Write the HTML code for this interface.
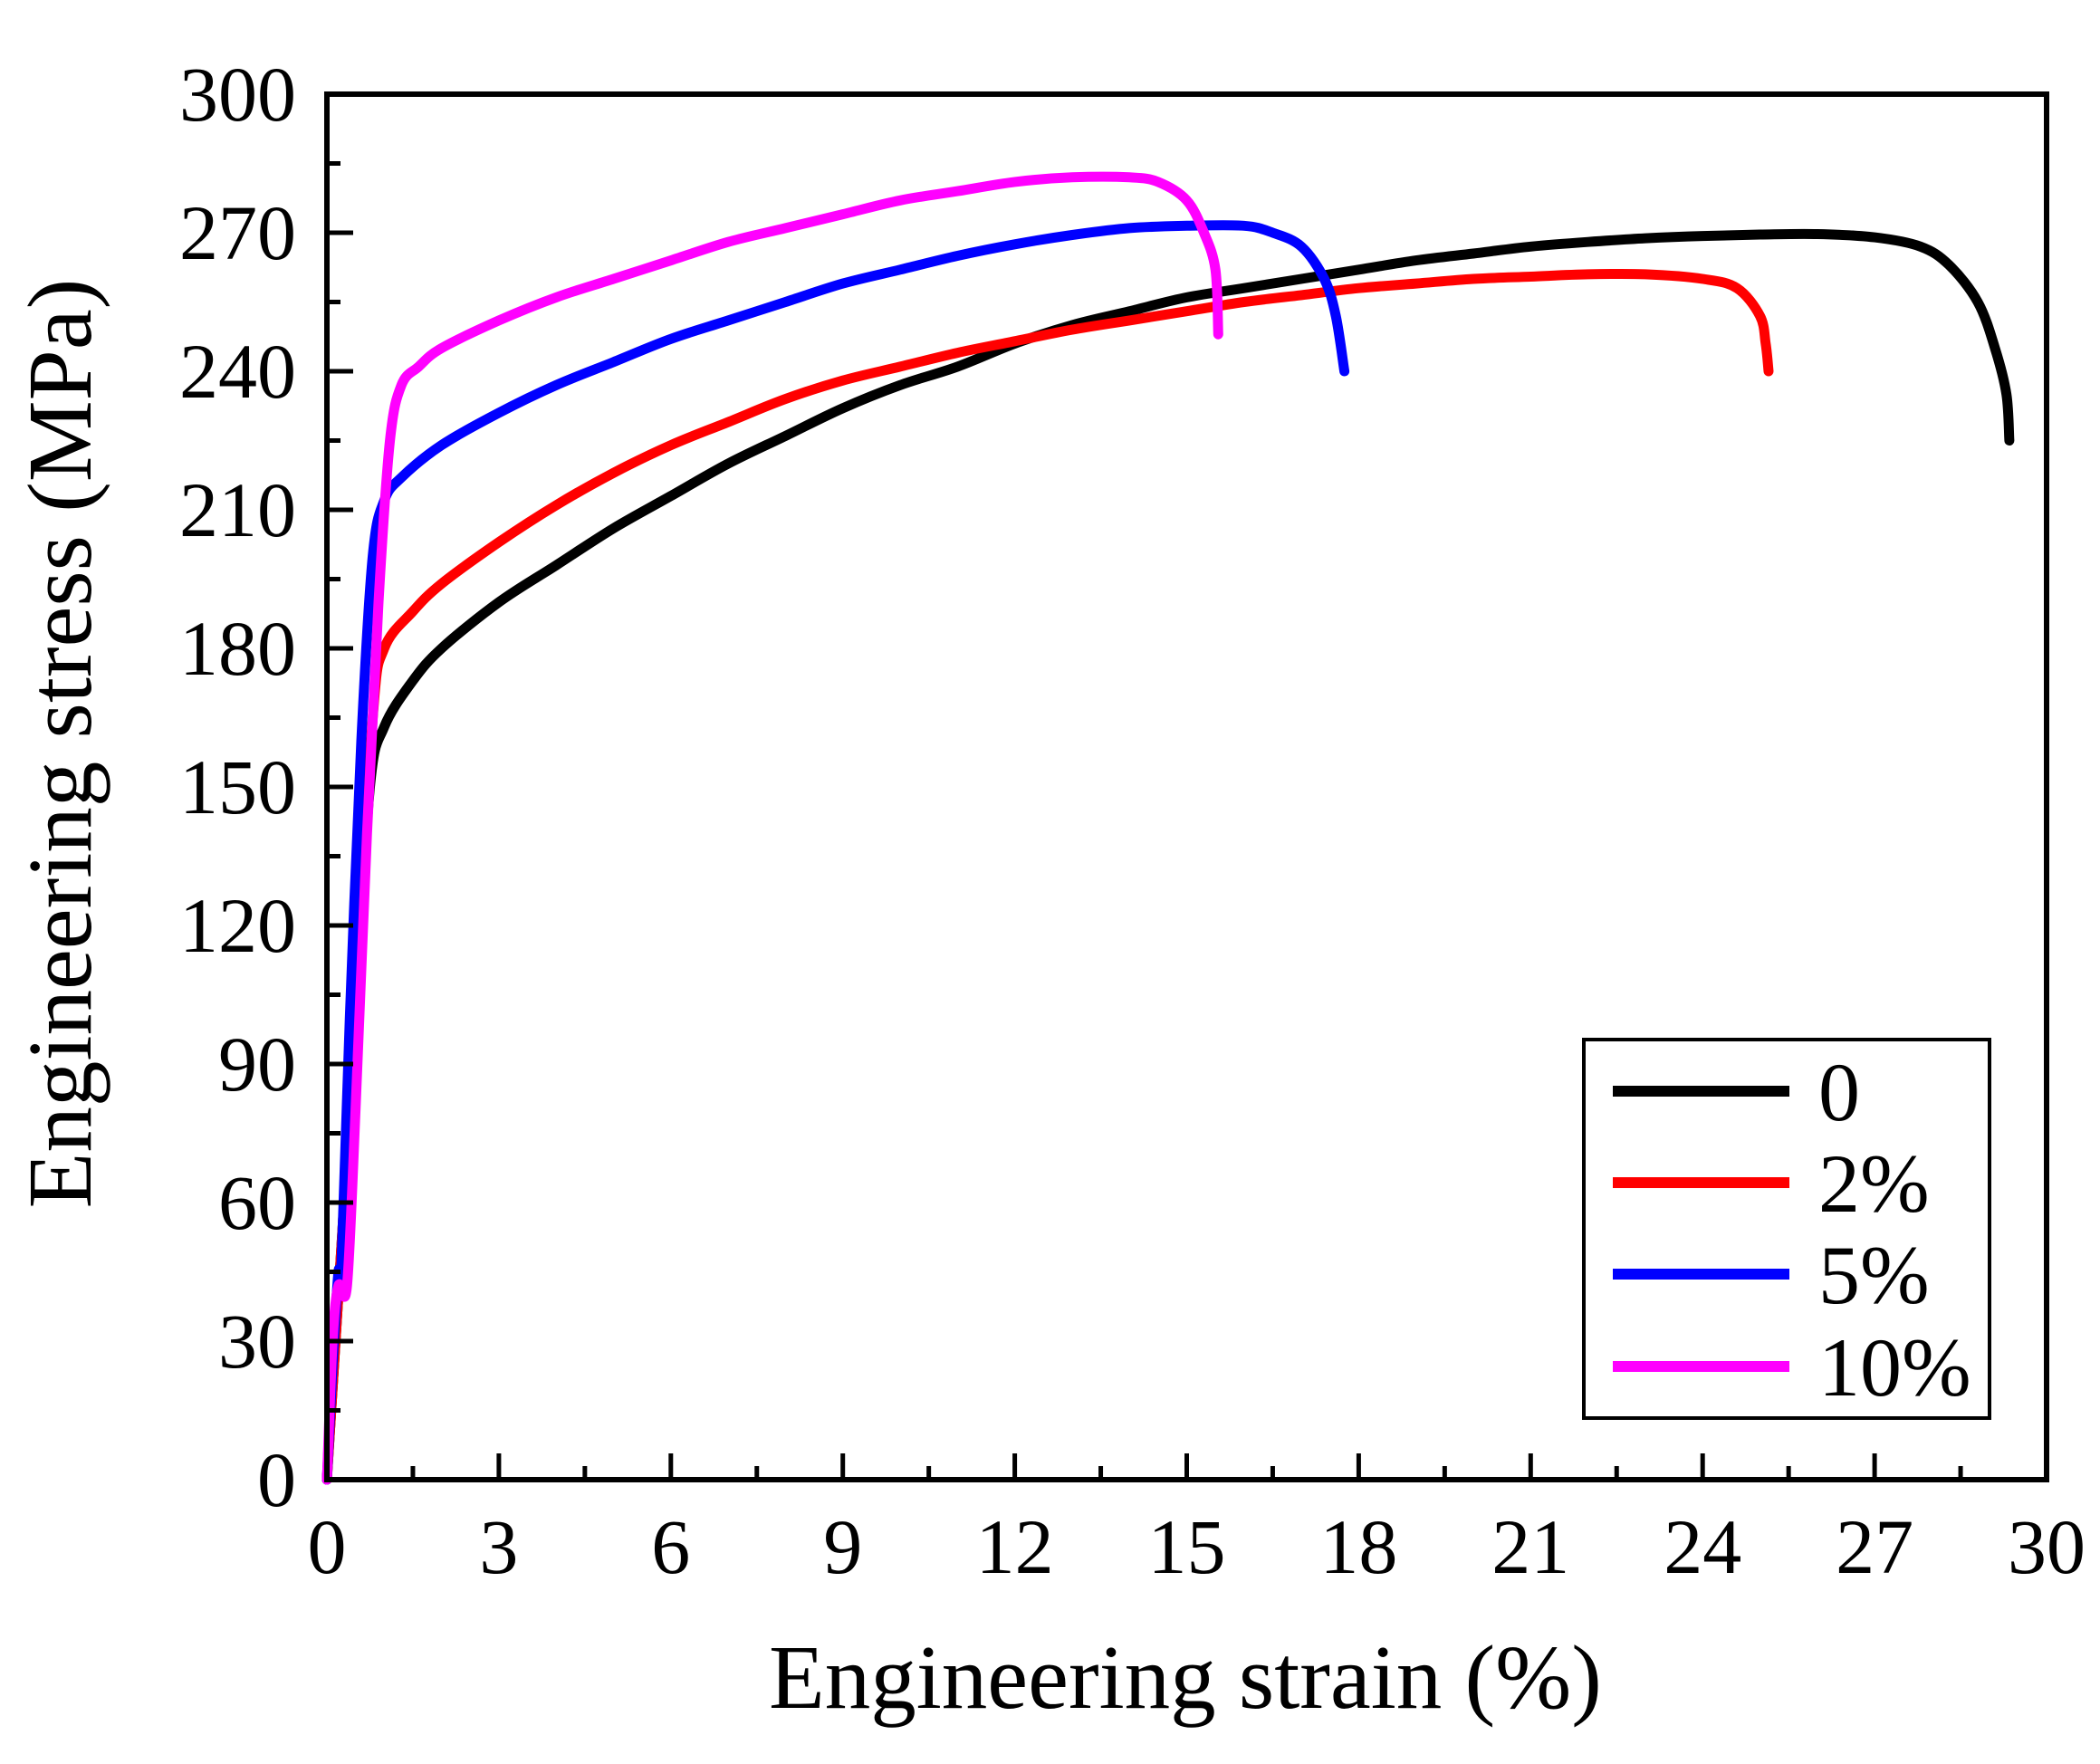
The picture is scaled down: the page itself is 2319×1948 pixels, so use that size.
<!DOCTYPE html>
<html><head><meta charset="utf-8"><style>
html,body{margin:0;padding:0;background:#fff;}
svg{display:block;font-family:"Liberation Serif",serif;}
</style></head><body>
<svg id="chart" width="2319" height="1948" viewBox="0 0 2319 1948" xmlns="http://www.w3.org/2000/svg">
<g id="series"></g>
<g id="axes"></g>
<g id="legend"></g>
<text x="1309" y="1886" font-size="101" text-anchor="middle">Engineering strain (%)</text>
<text transform="translate(100,821) rotate(-90)" font-size="101" text-anchor="middle">Engineering stress (MPa)</text>
</svg>
<script>
const xTicks=[0,3,6,9,12,15,18,21,24,27,30];
const yTicks=[0,30,60,90,120,150,180,210,240,270,300];
const seriesNames=["0","2%","5%","10%"];
const seriesColors=["#000000","#ff0000","#0000ff","#ff00ff"];
const strain0=[0,0.2,0.5,0.75,1,1.5,2,3,4,5,6,7,8,9,10,11,12,13,14,15,16,17,18,19,20,21,22,23,24,25,26,27,27.8,28.3,28.8,29.1,29.3,29.35];
const stress0=[0,40,100,150,163,173,180,190,198,206,213,220,226,232,237,241,246,250,253,256,258,260,262,264,265.5,267,268,268.8,269.3,269.6,269.7,269,267,263,255,245,235,225];
const strain2=[0,0.2,0.5,0.8,1.0,1.5,2,3,4,5,6,7,8,9,10,11,12,13,14,15,16,17,18,19,20,21,22,23,24,24.6,25,25.1,25.15];
const stress2=[0,40,100,165,180,188,194,203,211,218,224,229,234,238,241,244,246.5,249,251,253,255,256.5,258,259,260,260.5,261,261,260,258,252,246,240];
const strain5=[0,0.1,0.2,0.25,0.4,0.6,0.8,1,1.3,2,3,4,5,6,7,8,9,10,11,12,13,14,15,16,16.5,17,17.4,17.6,17.75];
const stress5=[0,25,45,45,100,160,200,212,217,224,231,237,242,247,251,255,259,262,265,267.5,269.5,271,271.5,271.5,270,267,260,252,240];
const strain10=[0,0.1,0.2,0.35,0.5,0.7,0.9,1.1,1.3,1.6,2,3,4,5,6,7,8,9,10,11,12,13,14,14.5,15,15.3,15.5,15.55];
const stress10=[0,30,42,42,80,140,190,225,237,241,245,251,256,260,264,268,271,274,277,279,281,282,282,281,277,270,262,248];

const L=361,R=2260,T=104,B=1634;
const xs=v=>L+(v-0)/(30-0)*(R-L);
const ys=v=>B-(v-0)/(300-0)*(B-T);
const NS="http://www.w3.org/2000/svg";
function mk(tag,parent){const e=document.createElementNS(NS,tag);parent.appendChild(e);return e;}

const sg=document.getElementById('series');
const allX=[strain0,strain2,strain5,strain10],allY=[stress0,stress2,stress5,stress10];
const snames=['series-0','series-2pct','series-5pct','series-10pct'];
for(let s=0;s<4;s++){
  const p=mk('path',sg);
  const px=allX[s].map(xs),py=allY[s].map(ys);
  let d='M'+px[0].toFixed(1)+','+py[0].toFixed(1);
  for(let i=0;i<px.length-1;i++){
    const p0x=px[Math.max(i-1,0)],p0y=py[Math.max(i-1,0)];
    const p3x=px[Math.min(i+2,px.length-1)],p3y=py[Math.min(i+2,px.length-1)];
    const c1x=px[i]+(px[i+1]-p0x)/6,c1y=py[i]+(py[i+1]-p0y)/6;
    const c2x=px[i+1]-(p3x-px[i])/6,c2y=py[i+1]-(p3y-py[i])/6;
    d+='C'+c1x.toFixed(1)+','+c1y.toFixed(1)+' '+c2x.toFixed(1)+','+c2y.toFixed(1)+' '+px[i+1].toFixed(1)+','+py[i+1].toFixed(1);
  }
  p.setAttribute('d',d);
  p.setAttribute('fill','none');
  p.setAttribute('stroke',seriesColors[s]);
  p.setAttribute('stroke-width','11');
  p.setAttribute('stroke-linejoin','round');
  p.setAttribute('stroke-linecap','round');
  
  
}

const ag=document.getElementById('axes');
const frame=mk('rect',ag);
frame.setAttribute('x',L);frame.setAttribute('y',T);frame.setAttribute('width',R-L);frame.setAttribute('height',B-T);
frame.setAttribute('fill','none');frame.setAttribute('stroke','#000');frame.setAttribute('stroke-width','6');


for(let i=0;i<xTicks.length;i++){
  const x=xs(xTicks[i]);
  const t=mk('line',ag);
  t.setAttribute('x1',x);t.setAttribute('x2',x);t.setAttribute('y1',B);t.setAttribute('y2',B-29);
  t.setAttribute('stroke','#000');t.setAttribute('stroke-width','5');
  
  
  if(i<xTicks.length-1){
    const m=mk('line',ag);const xm=xs((xTicks[i]+xTicks[i+1])/2);
    m.setAttribute('x1',xm);m.setAttribute('x2',xm);m.setAttribute('y1',B);m.setAttribute('y2',B-15);
    m.setAttribute('stroke','#000');m.setAttribute('stroke-width','5');
    
    
  }
  const lb=mk('text',ag);
  lb.setAttribute('x',x);lb.setAttribute('y',1737);lb.setAttribute('font-size','86');lb.setAttribute('text-anchor','middle');
  lb.textContent=xTicks[i];
  
  
}
for(let i=0;i<yTicks.length;i++){
  const y=ys(yTicks[i]);
  const t=mk('line',ag);
  t.setAttribute('x1',L);t.setAttribute('x2',L+29);t.setAttribute('y1',y);t.setAttribute('y2',y);
  t.setAttribute('stroke','#000');t.setAttribute('stroke-width','5');
  
  
  if(i<yTicks.length-1){
    const m=mk('line',ag);const ym=ys((yTicks[i]+yTicks[i+1])/2);
    m.setAttribute('x1',L);m.setAttribute('x2',L+15);m.setAttribute('y1',ym);m.setAttribute('y2',ym);
    m.setAttribute('stroke','#000');m.setAttribute('stroke-width','5');
    
    
  }
  const lb=mk('text',ag);
  lb.setAttribute('x',327);lb.setAttribute('y',y+29);lb.setAttribute('font-size','86');lb.setAttribute('text-anchor','end');
  lb.textContent=yTicks[i];
  
  
}

const lg=document.getElementById('legend');
const box=mk('rect',lg);
box.setAttribute('x',1749);box.setAttribute('y',1148);box.setAttribute('width',448);box.setAttribute('height',418);
box.setAttribute('fill','#fff');box.setAttribute('stroke','#000');box.setAttribute('stroke-width','4');


const ly=[1205,1306,1407,1509];
for(let s=0;s<4;s++){
  const l=mk('line',lg);
  l.setAttribute('x1',1781);l.setAttribute('x2',1976);l.setAttribute('y1',ly[s]);l.setAttribute('y2',ly[s]);
  l.setAttribute('stroke',seriesColors[s]);l.setAttribute('stroke-width','12');
  
  
  const t=mk('text',lg);
  t.setAttribute('x',2008);t.setAttribute('y',ly[s]+32);t.setAttribute('font-size','92');
  t.textContent=seriesNames[s];
  
  
}
</script>
</body></html>
